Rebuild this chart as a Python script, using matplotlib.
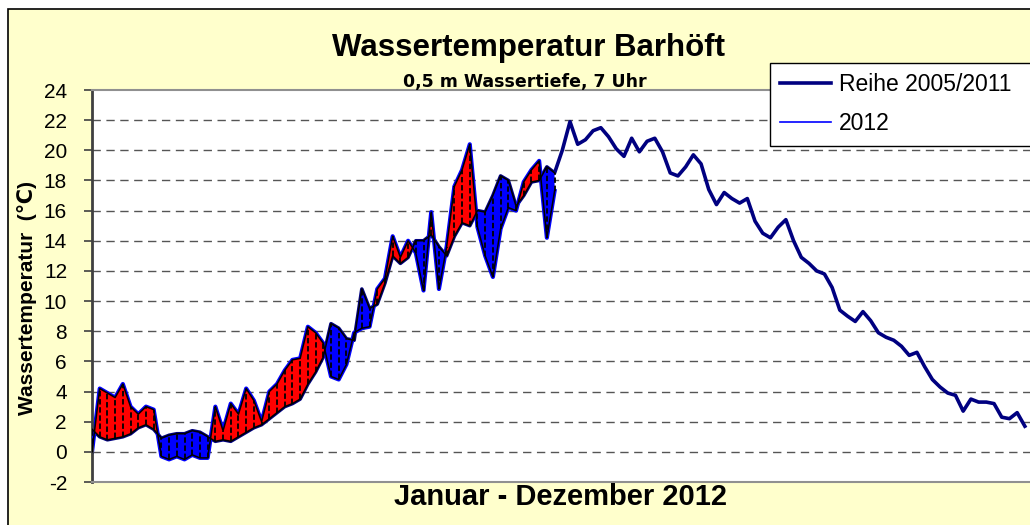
import numpy as np
import matplotlib
matplotlib.use("Agg")
import matplotlib.pyplot as plt
from matplotlib.patches import Rectangle

plt.rcParams['font.family'] = ['Liberation Sans', 'DejaVu Sans']

# daily values sampled every 3rd day of 2012 (day of year)
ref_days = np.arange(1, 365, 3)
ref_temp = [
    1.5, 1.0, 0.8, 0.9, 1.0, 1.2, 1.6, 1.8, 1.5, 0.9,
    1.1, 1.2, 1.2, 1.4, 1.3, 1.0, 0.7, 0.8, 0.7, 1.0,
    1.3, 1.6, 1.8, 2.2, 2.6, 3.0, 3.2, 3.5, 4.5, 5.3,
    6.3, 8.5, 8.2, 7.5, 7.4, 10.8, 9.5, 9.8, 11.2, 13.0,
    12.5, 12.9, 14.0, 14.0, 14.4, 13.6, 13.0, 14.3, 15.2, 15.0,
    16.0, 15.9, 17.0, 18.3, 18.0, 16.3, 17.0, 17.9, 18.0, 18.9,
    18.5, 20.0, 21.9, 20.4, 20.7, 21.3, 21.5, 20.9, 20.1, 19.6,
    20.8, 19.9, 20.6, 20.8, 19.9, 18.5, 18.3, 18.9, 19.7, 19.1,
    17.4, 16.4, 17.2, 16.8, 16.5, 16.8, 15.3, 14.5, 14.2, 14.9,
    15.4, 14.0, 12.9, 12.5, 12.0, 11.8, 10.9, 9.4, 9.0, 8.65,
    9.3, 8.7, 7.9, 7.6, 7.4, 7.0, 6.4, 6.6, 5.65, 4.8,
    4.3, 3.9, 3.75, 2.7, 3.5, 3.3, 3.3, 3.2, 2.3, 2.2,
    2.6, 1.7,
]

temp_2012 = [
    0.0, 4.2, 3.9, 3.6, 4.5, 3.0, 2.5, 3.0, 2.8, -0.3,
    -0.5, -0.3, -0.5, -0.2, -0.4, -0.4, 3.0, 1.4, 3.2, 2.5,
    4.2, 3.4, 2.0, 4.0, 4.5, 5.4, 6.1, 6.2, 8.3, 7.9,
    7.2, 5.0, 4.8, 5.8, 7.9, 8.2, 8.3, 10.8, 11.5, 14.3,
    12.9, 14.0, 13.2, 10.7, 15.9, 10.8, 13.6, 17.6, 18.7, 20.4,
    14.9, 13.0, 11.6, 14.8, 16.2, 16.0, 17.9, 18.7, 19.3, 14.2,
    17.3,
]
days_2012 = ref_days[:len(temp_2012)]

yticks = list(range(-2, 25, 2))

W, H = 1030, 525
fig = plt.figure(figsize=(W / 100, H / 100), dpi=100, facecolor='white')

# chart area (light yellow with black border)
fig.patches.append(Rectangle((8 / W, -0.05), 1.1, 1 - 9 / H + 0.05,
                             transform=fig.transFigure, facecolor='#FFFFCC',
                             edgecolor='black', linewidth=1.2, zorder=-1))

ax = fig.add_axes([92 / W, 43 / H, 1 - 92 / W, 392 / H])
ax.set_zorder(1)
ax.set_facecolor('white')

ref_arr = np.array(ref_temp)
cur = np.array(temp_2012)
base = ref_arr[:len(cur)]
lo = np.minimum(cur, base)
hi = np.maximum(cur, base)

ax.plot(ref_days, ref_temp, color='#000080', lw=2.6, zorder=2, label='Reihe 2005/2011')
ax.plot(days_2012, temp_2012, color='#0000FF', lw=1.2, zorder=2, label='2012')
ax.plot(days_2012, temp_2012, color='#0000FF', lw=3.0, zorder=2)
# up/down area between 2012 and the long-term series
ax.fill_between(days_2012, base, cur, where=cur >= base, interpolate=True,
                color='#FF0000', lw=0, zorder=3)
ax.fill_between(days_2012, base, cur, where=cur < base, interpolate=True,
                color='#0000FF', lw=0, zorder=3)
ax.vlines(days_2012, lo, hi, colors='black', lw=1.3, linestyles=(0, (3, 1.5)), zorder=4)
ax.plot(days_2012, temp_2012, color='black', lw=1.1, zorder=4)
ax.plot(days_2012, base, color='black', lw=1.1, zorder=4)

ax.set_xlim(1, 366)
ax.set_ylim(-2, 24)
ax.set_yticks(yticks)
ax.set_yticklabels([str(t) for t in yticks])
ax.set_xticks([])
ax.tick_params(axis='y', direction='out', length=6, width=1.2, color='#404040',
               labelsize=15, pad=12)
ax.set_axisbelow(True)
for t in yticks[1:-1]:
    ax.axhline(t, color='#555555', lw=1, ls=(0, (6, 4)), zorder=1)

ax.spines['right'].set_visible(False)
ax.spines['left'].set_color('#404040')
ax.spines['left'].set_linewidth(2)
ax.spines['top'].set_color('#909090')
ax.spines['top'].set_linewidth(1.5)
ax.spines['bottom'].set_color('#909090')
ax.spines['bottom'].set_linewidth(1.5)

fig.text(528 / W, 1 - 48 / H, 'Wassertemperatur Barhöft', ha='center', va='center',
         fontsize=22.5, fontweight='bold')
fig.text(525 / W, 1 - 82 / H, '0,5 m Wassertiefe, 7 Uhr', ha='center', va='center',
         fontsize=12.5, fontweight='bold', family='DejaVu Sans')
fig.text(560 / W, 1 - 497 / H, 'Januar - Dezember 2012', ha='center', va='center',
         fontsize=21, fontweight='bold')
fig.text(27 / W, 1 - 298 / H, 'Wassertemperatur  (\u2103)', ha='center', va='center',
         rotation=90, fontsize=15, fontweight='bold')

leg = ax.legend(loc='upper left', mode='expand', borderaxespad=0,
                bbox_to_anchor=(770 / W, 1 - 145 / H, 0.3, 82 / H),
                bbox_transform=fig.transFigure, fontsize=16.5, frameon=True,
                fancybox=False, edgecolor='black', framealpha=1,
                handlelength=2.2, handletextpad=0.35, labelspacing=0.7,
                borderpad=0.45)
leg.get_frame().set_linewidth(1.0)
leg.set_zorder(5)

fig.savefig('out.png', dpi=100, facecolor=fig.get_facecolor())
